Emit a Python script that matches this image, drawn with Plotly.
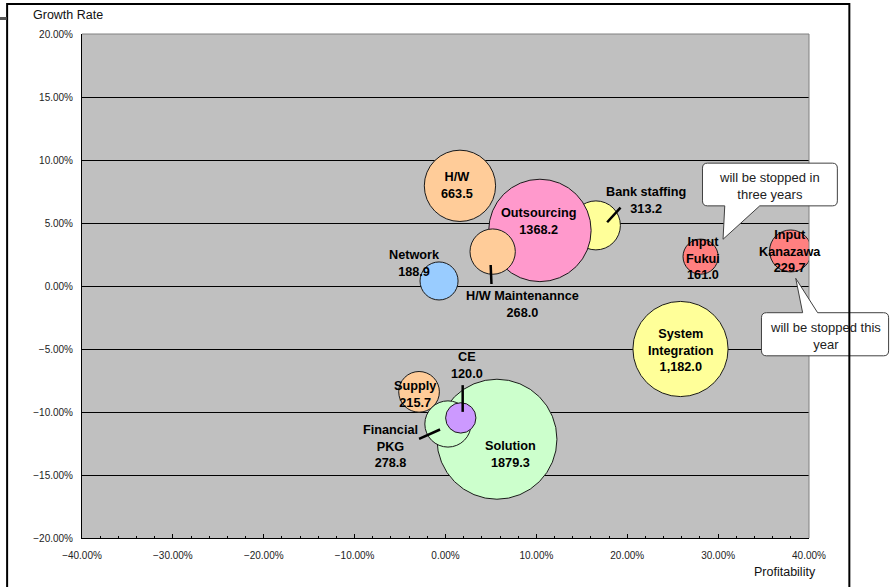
import plotly.graph_objects as go

# Business segments: profitability (%), growth rate (%), sales volume (bubble area)
segments = ["Bank staffing", "Outsourcing", "H/W Maintenannce", "H/W", "Network",
            "Solution", "Supply", "Financial PKG", "CE", "System Integration",
            "Input Fukui", "Input Kanazawa"]
profitability = [16.55, 10.39, 5.19, 1.59, -0.71, 5.66, -2.91, 0.27, 1.68, 25.86, 28.07, 37.97]
growth_rate = [4.81, 4.41, 2.73, 7.95, 0.40, -12.16, -8.40, -10.95, -10.47, -5.00, 2.33, 2.78]
volume = [313.2, 1368.2, 268.0, 663.5, 188.9, 1879.3, 215.7, 278.8, 120.0, 1182.0, 161.0, 229.7]
label_names = ["Bank staffing", "Outsourcing", "H/W Maintenannce", "H/W", "Network",
               "Solution", "Supply", "Financial<br>PKG", "CE", "System<br>Integration",
               "Input<br>Fukui", "Input<br>Kanazawa"]
volume_text = ["313.2", "1368.2", "268.0", "663.5", "188.9", "1879.3", "215.7",
               "278.8", "120.0", "1,182.0", "161.0", "229.7"]

x_ticks = [-40, -30, -20, -10, 0, 10, 20, 30, 40]
y_ticks = [-20, -15, -10, -5, 0, 5, 10, 15, 20]

# Styling / placement (kept separate from data)
colors = ["#FFFF99", "#FF99CC", "#FFCC99", "#FFCC99", "#99CCFF", "#CCFFCC",
          "#FFCC99", "#CCFFCC", "#CC99FF", "#FFFF99", "#FF8080", "#FF8080"]
label_pos = {  # label centre in axis units
    "Bank staffing": (22.05, 6.75), "Outsourcing": (10.28, 5.14),
    "H/W Maintenannce": (8.52, -1.49), "H/W": (1.25, 7.96), "Network": (-3.46, 1.80),
    "Solution": (7.17, -13.35), "Supply": (-3.35, -8.62), "Financial PKG": (-6.1, -12.77),
    "CE": (2.33, -6.28), "System Integration": (25.86, -5.09),
    "Input Fukui": (28.31, 2.15), "Input Kanazawa": (37.93, 2.73),
}
leaders = [  # leader lines from label to bubble, axis units
    ((17.79, 5.06), (19.26, 6.22)),
    ((4.97, 1.67), (5.06, 0.16)),
    ((1.89, -7.87), (1.89, -9.99)),
    ((-2.91, -12.13), (-0.6, -11.39)),
]

XMIN, XMAX, YMIN, YMAX = -40, 40, -20, 20
FONT = "Liberation Sans, Arial, sans-serif"


def paper(x, y):
    return (x - XMIN) / (XMAX - XMIN), (y - YMIN) / (YMAX - YMIN)


def callout_path(x0, x1, yb, yt, side, xa, xb, tip, r=5):
    """Rounded speech-bubble outline, given in axis units, returned in paper units."""
    (px0, pyb), (px1, pyt) = paper(x0, yb), paper(x1, yt)
    pxa, _ = paper(xa, yb)
    pxb, _ = paper(xb, yb)
    tx, ty = paper(*tip)
    rx, ry = r / 727.6, r / 504.0
    p = [f"M{px0+rx},{pyt}"]
    if side == "top":
        p += [f"L{pxa},{pyt}", f"L{tx},{ty}", f"L{pxb},{pyt}"]
    p += [f"L{px1-rx},{pyt}", f"Q{px1},{pyt} {px1},{pyt-ry}",
          f"L{px1},{pyb+ry}", f"Q{px1},{pyb} {px1-rx},{pyb}"]
    if side == "bottom":
        p += [f"L{pxb},{pyb}", f"L{tx},{ty}", f"L{pxa},{pyb}"]
    p += [f"L{px0+rx},{pyb}", f"Q{px0},{pyb} {px0},{pyb+ry}",
          f"L{px0},{pyt-ry}", f"Q{px0},{pyt} {px0+rx},{pyt}", "Z"]
    return " ".join(p)


fig = go.Figure(go.Scatter(
    x=profitability, y=growth_rate, mode="markers",
    marker=dict(size=volume, sizemode="area", sizeref=0.261, color=colors,
                opacity=1, line=dict(color="#1a1a1a", width=1)),
    hoverinfo="skip",
))

annotations = []
for name, lab, val in zip(segments, label_names, volume_text):
    lx, ly = label_pos[name]
    annotations.append(dict(x=lx, y=ly, xref="x", yref="y", text=f"<b>{lab}<br>{val}</b>",
                            showarrow=False, font=dict(family=FONT, size=12.7, color="#000"),
                            align="center", xanchor="center", yanchor="middle"))

shapes = []
for (a, b) in leaders:
    shapes.append(dict(type="line", xref="x", yref="y", x0=a[0], y0=a[1], x1=b[0], y1=b[1],
                       line=dict(color="#000", width=2.5)))

# plot-area border (top and right)
shapes.append(dict(type="line", xref="paper", yref="paper", x0=0, x1=1, y0=1, y1=1,
                   line=dict(color="#808080", width=1)))
shapes.append(dict(type="line", xref="paper", yref="paper", x0=1, x1=1, y0=0, y1=1,
                   line=dict(color="#808080", width=1)))

# speech-bubble callouts
callouts = [
    dict(box=(28.28, 43.12, 6.36, 9.75), side="bottom", base=(30.73, 34.58), tip=(30.54, 3.71),
         text="will be stopped in<br>three years", at=(35.7, 7.95)),
    dict(box=(34.77, 48.76, -5.54, -2.12), side="top", base=(39.3, 40.95), tip=(38.54, 0.61),
         text="will be stopped this<br>year", at=(41.78, -3.95)),
]
for c in callouts:
    x0, x1, yb, yt = c["box"]
    shapes.append(dict(type="path", xref="paper", yref="paper",
                       path=callout_path(x0, x1, yb, yt, c["side"], *c["base"], c["tip"]),
                       fillcolor="#FFFFFF", line=dict(color="#404040", width=1), layer="above"))
    ax, ay = paper(*c["at"])
    annotations.append(dict(x=ax, y=ay, xref="paper", yref="paper", text=c["text"],
                            showarrow=False, font=dict(family=FONT, size=13, color="#222"),
                            align="center", xanchor="center", yanchor="middle"))

# outer frame of the slide panel
shapes.append(dict(type="rect", xref="paper", yref="paper", x0=-0.1030, x1=1.0555,
                   y0=-0.25, y1=1.0595, line=dict(color="#000", width=2), fillcolor="rgba(0,0,0,0)"))
shapes.append(dict(type="line", xref="paper", yref="paper", x0=-0.115, x1=-0.1035,
                   y0=1.0308, y1=1.0308, line=dict(color="#555", width=3)))

# axis titles
annotations.append(dict(x=-0.0702, y=1.0377, xref="paper", yref="paper", text="Growth Rate",
                        xanchor="left", yanchor="middle", showarrow=False,
                        font=dict(family=FONT, size=12.5, color="#111")))
annotations.append(dict(x=1.0124, y=-0.0675, xref="paper", yref="paper", text="Profitability",
                        xanchor="right", yanchor="middle", showarrow=False,
                        font=dict(family=FONT, size=12.5, color="#111")))

fig.update_layout(
    width=893, height=587, autosize=False,
    margin=dict(l=82, r=84, t=34, b=49),
    paper_bgcolor="#FFFFFF", plot_bgcolor="#C0C0C0",
    showlegend=False,
    shapes=shapes, annotations=annotations,
    xaxis=dict(range=[XMIN, XMAX], tickvals=x_ticks, ticktext=[f"{v:.2f}%".replace("-", "\u2212") for v in x_ticks],
               showgrid=False, zeroline=False, showline=True, linecolor="#000", linewidth=1,
               ticks="inside", ticklen=4, tickcolor="#000", ticklabelstandoff=8,
               minor=dict(dtick=2, ticks="inside", ticklen=2, tickcolor="#000", showgrid=False),
               tickfont=dict(family=FONT, size=10, color="#222")),
    yaxis=dict(range=[YMIN, YMAX], tickvals=y_ticks, ticktext=[f"{v:.2f}%".replace("-", "\u2212") for v in y_ticks],
               showgrid=True, gridcolor="#000", gridwidth=1, zeroline=False,
               showline=True, linecolor="#000", linewidth=1, ticks="", ticklabelstandoff=6,
               tickfont=dict(family=FONT, size=10, color="#222")),
)

fig.write_html("out.html")
